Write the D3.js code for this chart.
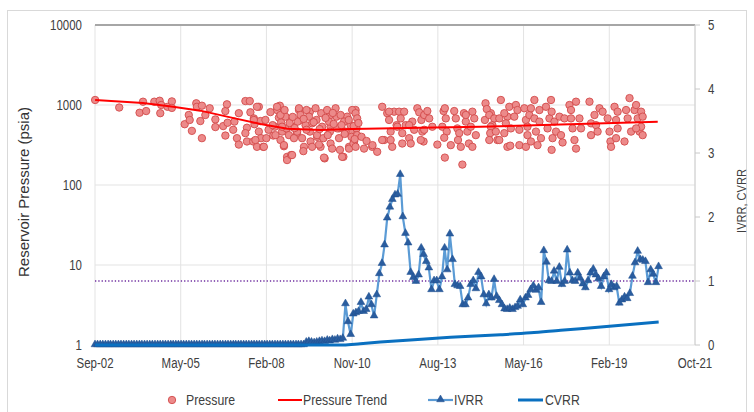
<!DOCTYPE html>
<html>
<head>
<meta charset="utf-8">
<script src="https://cdn.jsdelivr.net/npm/d3@7"></script>
<style>
  html, body { margin: 0; padding: 0; background: #fff; }
  svg { display: block; }
  .narrow { font-family: "Liberation Sans", Arial, sans-serif; fill: #404040; }
</style>
</head>
<body>
<div id="plot1"></div>
<script>
// x axis ticks (Excel date axis, major unit 1000 days)
const xTickLabels = ['Sep-02', 'May-05', 'Feb-08', 'Nov-10', 'Aug-13', 'May-16', 'Feb-19', 'Oct-21'];
const xTickDates = ['2002-09-01', '2005-05-28', '2008-02-22', '2010-11-18', '2013-08-14', '2016-05-10', '2019-02-04', '2021-10-31'];
const leftTicks = [1, 10, 100, 1000, 10000];
const rightTicks = [0, 1, 2, 3, 4, 5];

// pressure measurements [decimal year, psia]
const pressurePoints = [
    [2002.67, 1155], [2003.44, 930], [2004.09, 800], [2004.20, 1100], [2004.30, 840], [2004.56, 1100],
    [2004.73, 1130], [2004.78, 1000], [2004.75, 790], [2004.98, 950], [2005.12, 1110], [2005.12, 920],
    [2005.53, 575], [2005.66, 750], [2005.69, 650], [2005.76, 475], [2005.90, 1050], [2005.92, 950],
    [2006.08, 980], [2006.03, 630], [2006.19, 750], [2006.08, 385], [2006.33, 910], [2006.51, 660],
    [2006.51, 530], [2006.76, 545], [2006.83, 840], [2006.88, 1020], [2006.90, 600], [2006.83, 415],
    [2007.08, 490], [2007.26, 790], [2007.12, 620], [2007.20, 385], [2007.26, 320], [2007.47, 1120],
    [2007.61, 1120], [2007.52, 520], [2007.47, 445], [2007.63, 810], [2007.74, 680], [2007.76, 575],
    [2007.90, 950], [2007.90, 465], [2007.52, 350], [2007.72, 350], [2007.84, 300], [2008.04, 300],
    [2007.95, 630], [2007.97, 385], [2008.41, 535], [2008.36, 415], [2008.48, 865], [2008.57, 980],
    [2008.54, 695], [2008.61, 605], [2008.64, 465], [2008.59, 365], [2008.70, 305], [2008.80, 225],
    [2008.78, 510], [2008.75, 715], [2007.84, 950], [2007.74, 650], [2007.79, 365], [2008.06, 300],
    [2008.48, 950], [2008.59, 750], [2008.43, 420], [2008.64, 535], [2008.80, 205], [2008.93, 237],
    [2008.70, 315], [2008.86, 420], [2009.18, 865], [2009.23, 650], [2009.12, 445], [2009.34, 300],
    [2009.53, 825], [2009.60, 590], [2009.71, 910], [2009.76, 400], [2009.87, 300], [2010.00, 215],
    [2010.14, 715], [2010.19, 535], [2010.35, 910], [2010.46, 510], [2010.60, 225], [2010.72, 715],
    [2010.83, 465], [2010.94, 350], [2010.99, 865], [2010.78, 300], [2011.26, 285], [2011.52, 300],
    [2011.68, 260], [2011.84, 950], [2011.90, 365],
    [2008.96, 535], [2009.02, 385], [2008.96, 237], [2009.18, 910], [2009.23, 750], [2009.14, 620],
    [2009.12, 465], [2009.28, 385], [2009.32, 265], [2009.39, 560], [2009.42, 865], [2009.50, 715],
    [2009.53, 465], [2009.55, 350], [2009.60, 300], [2009.74, 650], [2009.76, 420], [2009.82, 320],
    [2009.89, 790], [2009.92, 535], [2009.96, 385], [2009.98, 220], [2010.08, 865], [2010.14, 620],
    [2010.17, 465], [2010.19, 330], [2010.24, 285], [2010.38, 715], [2010.40, 510], [2010.46, 385],
    [2010.49, 275], [2010.56, 225], [2010.62, 620], [2010.67, 465], [2010.78, 285], [2010.83, 560],
    [2010.86, 400], [2010.88, 865], [2010.92, 330], [2010.99, 790], [2011.04, 680], [2011.02, 510],
    [2011.04, 420], [2010.99, 300], [2011.84, 365],
    [2008.11, 650], [2008.21, 490], [2008.27, 815], [2008.34, 560], [2008.14, 385], [2008.72, 865],
    [2008.88, 595], [2008.98, 710], [2009.04, 515], [2009.33, 670], [2009.42, 490], [2009.65, 610],
    [2009.84, 500], [2010.03, 690], [2010.10, 420], [2010.26, 795], [2010.29, 580], [2010.51, 750],
    [2010.54, 560], [2010.64, 435], [2010.77, 650], [2010.93, 545], [2010.96, 375], [2011.08, 595],
    [2011.18, 400], [2011.34, 355], [2011.53, 315],
    [2012.00, 790], [2012.06, 650], [2012.11, 465], [2012.16, 300], [2012.22, 825], [2012.30, 560],
    [2012.38, 825], [2012.43, 680], [2012.48, 445], [2012.54, 825], [2012.59, 560], [2012.70, 385],
    [2012.75, 330], [2012.80, 620], [2012.86, 490], [2012.96, 910], [2013.02, 810], [2013.09, 650],
    [2013.12, 465], [2013.16, 350], [2013.18, 750], [2013.28, 840], [2013.34, 680], [2013.44, 535],
    [2013.60, 320], [2013.76, 535], [2013.80, 840], [2013.84, 910], [2013.87, 680], [2013.90, 465],
    [2013.82, 390], [2013.84, 220], [2014.03, 315], [2014.14, 840], [2014.19, 680], [2014.24, 510],
    [2014.30, 445], [2014.26, 365], [2014.35, 300], [2014.45, 790], [2014.51, 620], [2014.56, 465],
    [2014.61, 330], [2014.72, 825], [2014.78, 680], [2014.83, 420], [2014.72, 300], [2014.40, 180],
    [2012.06, 825], [2012.32, 535], [2012.11, 365], [2012.48, 330], [2012.70, 560], [2013.18, 490],
    [2013.07, 365], [2014.51, 750], [2014.67, 535], [2015.14, 1050], [2015.31, 790], [2015.36, 560],
    [2015.52, 365], [2015.63, 1155], [2015.84, 715], [2015.84, 300],
    [2015.18, 890], [2015.12, 650], [2015.26, 750], [2015.31, 535], [2015.29, 445], [2015.26, 365],
    [2015.42, 680], [2015.47, 465], [2015.58, 680], [2015.58, 365], [2015.74, 790], [2015.74, 445],
    [2015.79, 590], [2015.90, 950], [2015.93, 310], [2015.95, 510], [2016.06, 715], [2016.11, 1000],
    [2016.16, 865], [2016.22, 315], [2016.22, 490], [2016.38, 910], [2016.43, 650], [2016.43, 300],
    [2016.48, 535], [2016.48, 420], [2016.54, 750], [2016.59, 910], [2016.59, 350], [2016.70, 1155],
    [2016.70, 680], [2016.75, 465], [2016.80, 315], [2016.86, 865], [2016.86, 620], [2016.91, 385],
    [2017.07, 950], [2017.12, 510], [2017.18, 680], [2017.23, 1155], [2017.25, 825], [2017.28, 385],
    [2017.25, 275], [2017.34, 620], [2017.39, 465], [2017.50, 715], [2017.55, 420], [2017.60, 340],
    [2017.66, 680], [2017.82, 1000], [2017.87, 865], [2017.87, 680], [2017.92, 510], [2017.98, 365],
    [2018.03, 285], [2018.03, 1100], [2018.14, 680], [2018.19, 510], [2018.46, 1100], [2018.51, 590],
    [2018.51, 420], [2018.62, 750], [2018.67, 560], [2018.72, 465], [2018.78, 910], [2018.88, 825],
    [2019.04, 680], [2019.10, 465], [2019.13, 350], [2019.15, 300], [2019.26, 950], [2019.31, 650],
    [2019.36, 825], [2019.36, 510], [2019.31, 385], [2019.58, 350], [2019.63, 865], [2019.68, 680],
    [2019.74, 1220], [2019.79, 465], [2019.90, 865], [2019.95, 1000], [2020.00, 680], [2020.06, 465],
    [2020.11, 825], [2020.16, 715], [2020.16, 420], [2020.11, 535], [2019.95, 510]
];

// pressure trend line
const trendYears = [2002.67, 2004.20, 2005.16, 2006.03, 2006.99, 2007.95, 2008.81, 2009.87, 2010.89, 2013.06, 2014.98, 2017.54, 2020.64];
const trendValues = [1155, 1060, 950, 850, 700, 580, 505, 487, 500, 520, 535, 570, 618];

// IVRR, monthly from Sep-02
const ivrrStart = '2002-09-01';
const ivrrValues = [
    0, 0, 0, 0, 0, 0, 0, 0, 0, 0, 0, 0, 0, 0, 0, 0, 0, 0, 0, 0,
    0, 0, 0, 0, 0, 0, 0, 0, 0, 0, 0, 0, 0, 0, 0, 0, 0, 0, 0, 0,
    0, 0, 0, 0, 0, 0, 0, 0, 0, 0, 0, 0, 0, 0, 0, 0, 0, 0, 0, 0,
    0, 0, 0, 0, 0, 0, 0, 0, 0, 0, 0, 0, 0, 0, 0, 0, 0, 0, 0, 0,
    0,
    0.04, 0.05, 0.04, 0.03, 0.04, 0.05, 0.06, 0.05, 0.07, 0.06, 0.08, 0.07, 0.09, 0.08, 0.10,
    0.64, 0.36, 0.16, 0.48, 0.50, 0.52, 0.66, 0.52, 0.55, 0.745, 0.625, 0.45, 0.78, 1.11, 1.27, 1.56,
    1.98, 2.15, 2.27, 2.34, 2.35, 2.66, 2.0, 1.74, 1.59, 1.13, 1.05, 0.99, 1.09, 1.51, 1.41, 1.30,
    1.20, 0.86, 1.0, 1.0, 0.86, 1.06, 1.51, 1.17, 1.73, 1.33, 0.94, 0.92, 0.91, 0.625, 0.625, 0.73,
    0.94, 1.0, 0.875, 1.13, 1.06, 0.78, 0.64, 0.78, 0.73, 1.02, 0.755, 0.69, 0.625, 0.56,
    0.55, 0.57, 0.55, 0.58, 0.60, 0.70, 0.625, 0.73, 0.77, 0.86, 0.92, 0.85, 0.89, 0.66, 1.47,
    1.29, 1.0, 0.99, 1.15, 0.99, 1.21, 0.94, 0.99, 1.48, 1.12, 1.0, 0.99, 1.12, 1.04, 0.95, 0.89,
    1.0, 1.12, 1.18, 1.09, 1.03, 0.91, 1.06, 1.12, 0.86, 0.94, 0.89, 0.91, 0.65, 0.70, 0.745, 0.72,
    0.80, 1.07, 1.28, 1.46, 1.33, 1.32, 1.30, 0.97, 1.17, 1.10, 0.97, 1.22
];

// CVRR (cumulative)
const cvrrYears = [2002.67, 2010.60, 2011.14, 2011.78, 2012.74, 2014.02, 2015.62, 2016.58, 2017.54, 2018.82, 2020.67];
const cvrrValues = [0, 0, 0.02, 0.045, 0.08, 0.12, 0.16, 0.19, 0.23, 0.28, 0.36];

const legendItems = ['Pressure', 'Pressure Trend', 'IVRR', 'CVRR'];

// ---------------------------------------------------------------

const svgWidth = 754;
const svgHeight = 412;
const margin = {top: 25, right: 59, bottom: 67, left: 95};
const width = svgWidth - margin.left - margin.right;
const height = svgHeight - margin.top - margin.bottom;

// Arial Narrow look-alike: squeeze Liberation Sans horizontally
const squeeze = 0.82;
const narrowAt = (x, y) => 'translate(' + x + ',' + y + ') scale(' + squeeze + ',1)';

function yearToDate(y) {
    let yr = Math.floor(y);
    let a = new Date(yr, 0, 1), b = new Date(yr + 1, 0, 1);
    return new Date(+a + (y - yr) * (b - a));
}
const parse = d3.timeParse('%Y-%m-%d');

let svg = d3.select('#plot1')
    .append('svg')
    .attr('width', svgWidth)
    .attr('height', svgHeight);

// outer chart border
svg.append('rect')
    .attr('x', 7.5).attr('y', 10.5)
    .attr('width', 739).attr('height', 420)
    .style('fill', 'none')
    .style('stroke', '#d9d9d9');

let chart = svg.append('g')
    .attr('transform', 'translate(' + margin.left + ', ' + margin.top + ')');

let xs = d3.scaleTime()
    .domain([parse(xTickDates[0]), parse(xTickDates[xTickDates.length - 1])])
    .range([0, width]);
let ys = d3.scaleLog().domain([1, 10000]).range([height, 0]);
let ys2 = d3.scaleLinear().domain([0, 5]).range([height, 0]);

// grid
chart.append('g').selectAll('line')
    .data(xTickDates)
    .enter().append('line')
    .attr('x1', d => xs(parse(d))).attr('x2', d => xs(parse(d)))
    .attr('y1', 0).attr('y2', height)
    .style('stroke', '#e3e3e3').style('stroke-width', '1px');

chart.append('g').selectAll('line')
    .data(leftTicks.slice(0, -1))
    .enter().append('line')
    .attr('x1', 0).attr('x2', width)
    .attr('y1', d => ys(d)).attr('y2', d => ys(d))
    .style('stroke', '#e3e3e3').style('stroke-width', '1px');

// top border of plot area
chart.append('line')
    .attr('x1', 0).attr('x2', width)
    .attr('y1', 0).attr('y2', 0)
    .style('stroke', '#a6a6a6').style('stroke-width', '2px');

// right axis line + ticks
chart.append('line')
    .attr('x1', width).attr('x2', width)
    .attr('y1', 0).attr('y2', height)
    .style('stroke', '#d0d0d0');
chart.append('g').selectAll('line')
    .data(rightTicks)
    .enter().append('line')
    .attr('x1', width).attr('x2', width + 5)
    .attr('y1', d => ys2(d)).attr('y2', d => ys2(d))
    .style('stroke', '#c8c8c8');

// tick labels
chart.append('g').selectAll('text')
    .data(leftTicks)
    .enter().append('text')
    .attr('class', 'narrow')
    .attr('transform', d => narrowAt(-13, ys(d)))
    .attr('dy', '0.35em')
    .style('text-anchor', 'end')
    .style('font-size', '14px')
    .text(d => d);

chart.append('g').selectAll('text')
    .data(rightTicks)
    .enter().append('text')
    .attr('class', 'narrow')
    .attr('transform', d => narrowAt(width + 13, ys2(d)))
    .attr('dy', '0.35em')
    .style('font-size', '14px')
    .text(d => d);

chart.append('g').selectAll('text')
    .data(xTickDates)
    .enter().append('text')
    .attr('class', 'narrow')
    .attr('transform', d => narrowAt(xs(parse(d)), height + 18))
    .attr('dy', '0.35em')
    .style('text-anchor', 'middle')
    .style('font-size', '14px')
    .text((d, i) => xTickLabels[i]);

// axis titles
svg.append('text')
    .attr('transform', 'translate(29, 192) rotate(-90)')
    .style('text-anchor', 'middle')
    .style('font-family', '"Liberation Sans", Arial, sans-serif')
    .style('font-size', '15px')
    .style('fill', '#333')
    .text('Reservoir Pressure (psia)');

svg.append('text')
    .attr('class', 'narrow')
    .attr('transform', 'translate(741, 201) rotate(-90) scale(' + squeeze + ',1)')
    .attr('dy', '0.35em')
    .style('text-anchor', 'middle')
    .style('font-size', '13.5px')
    .text('IVRR, CVRR');

// VRR = 1 reference
chart.append('line')
    .attr('x1', 0).attr('x2', width)
    .attr('y1', ys2(1)).attr('y2', ys2(1))
    .style('stroke', '#7030a0')
    .style('stroke-width', '1.3px')
    .style('stroke-dasharray', '1.3,2');

// pressure scatter
chart.append('g').selectAll('circle')
    .data(pressurePoints)
    .enter().append('circle')
    .classed('data_point', true)
    .attr('cx', d => xs(yearToDate(d[0])))
    .attr('cy', d => ys(d[1]))
    .attr('r', 3.7)
    .style('fill', '#ec8a8a')
    .style('stroke', '#d24b4b')
    .style('stroke-width', '0.9px');

// pressure trend
const trendLine = d3.line()
    .x((d, i) => xs(yearToDate(trendYears[i])))
    .y(d => ys(d));
chart.append('path')
    .datum(trendValues)
    .attr('d', trendLine)
    .style('fill', 'none')
    .style('stroke', '#ff0000')
    .style('stroke-width', '2px');

// IVRR
const ivrrDate = i => d3.timeMonth.offset(parse(ivrrStart), i);
const ivrrLine = d3.line()
    .x((d, i) => xs(ivrrDate(i)))
    .y(d => ys2(d));
chart.append('path')
    .datum(ivrrValues)
    .attr('d', ivrrLine)
    .style('fill', 'none')
    .style('stroke', '#5b9bd5')
    .style('stroke-width', '2.2px');

const tri = d3.symbol().type(d3.symbolTriangle).size(26);
chart.append('g').selectAll('path')
    .data(ivrrValues)
    .enter().append('path')
    .attr('d', tri)
    .attr('transform', (d, i) => 'translate(' + xs(ivrrDate(i)) + ',' + (ys2(d) - 0.5) + ')')
    .style('fill', '#2a5d9f')
    .style('stroke', '#1f4f8f')
    .style('stroke-width', '0.5px');

// CVRR
const cvrrLine = d3.line()
    .x((d, i) => xs(yearToDate(cvrrYears[i])))
    .y(d => ys2(d))
    .curve(d3.curveMonotoneX);
chart.append('path')
    .datum(cvrrValues)
    .attr('d', cvrrLine)
    .style('fill', 'none')
    .style('stroke', '#0a70c0')
    .style('stroke-width', '3px');

// legend
const legendX = [172, 278, 428, 518];
let legend = svg.append('g').attr('transform', 'translate(0, 400)');

legend.append('circle')
    .attr('cx', legendX[0]).attr('cy', 0).attr('r', 3.7)
    .style('fill', '#ec8a8a').style('stroke', '#d24b4b').style('stroke-width', '0.9px');
legend.append('line')
    .attr('x1', legendX[1]).attr('x2', legendX[1] + 24).attr('y1', 0).attr('y2', 0)
    .style('stroke', '#ff0000').style('stroke-width', '2px');
legend.append('line')
    .attr('x1', legendX[2]).attr('x2', legendX[2] + 25).attr('y1', 0).attr('y2', 0)
    .style('stroke', '#5b9bd5').style('stroke-width', '2.2px');
legend.append('path')
    .attr('d', tri)
    .attr('transform', 'translate(' + (legendX[2] + 12.5) + ',-0.5)')
    .style('fill', '#2a5d9f').style('stroke', '#1f4f8f').style('stroke-width', '0.5px');
legend.append('line')
    .attr('x1', legendX[3]).attr('x2', legendX[3] + 25).attr('y1', 0).attr('y2', 0)
    .style('stroke', '#0a70c0').style('stroke-width', '3px');

const legendTextX = [186, 303, 454, 545];
legend.selectAll('text')
    .data(legendItems)
    .enter().append('text')
    .attr('class', 'narrow')
    .attr('transform', (d, i) => narrowAt(legendTextX[i], 0))
    .attr('dy', '0.35em')
    .style('font-size', '15px')
    .text(d => d);
</script>
</body>
</html>
